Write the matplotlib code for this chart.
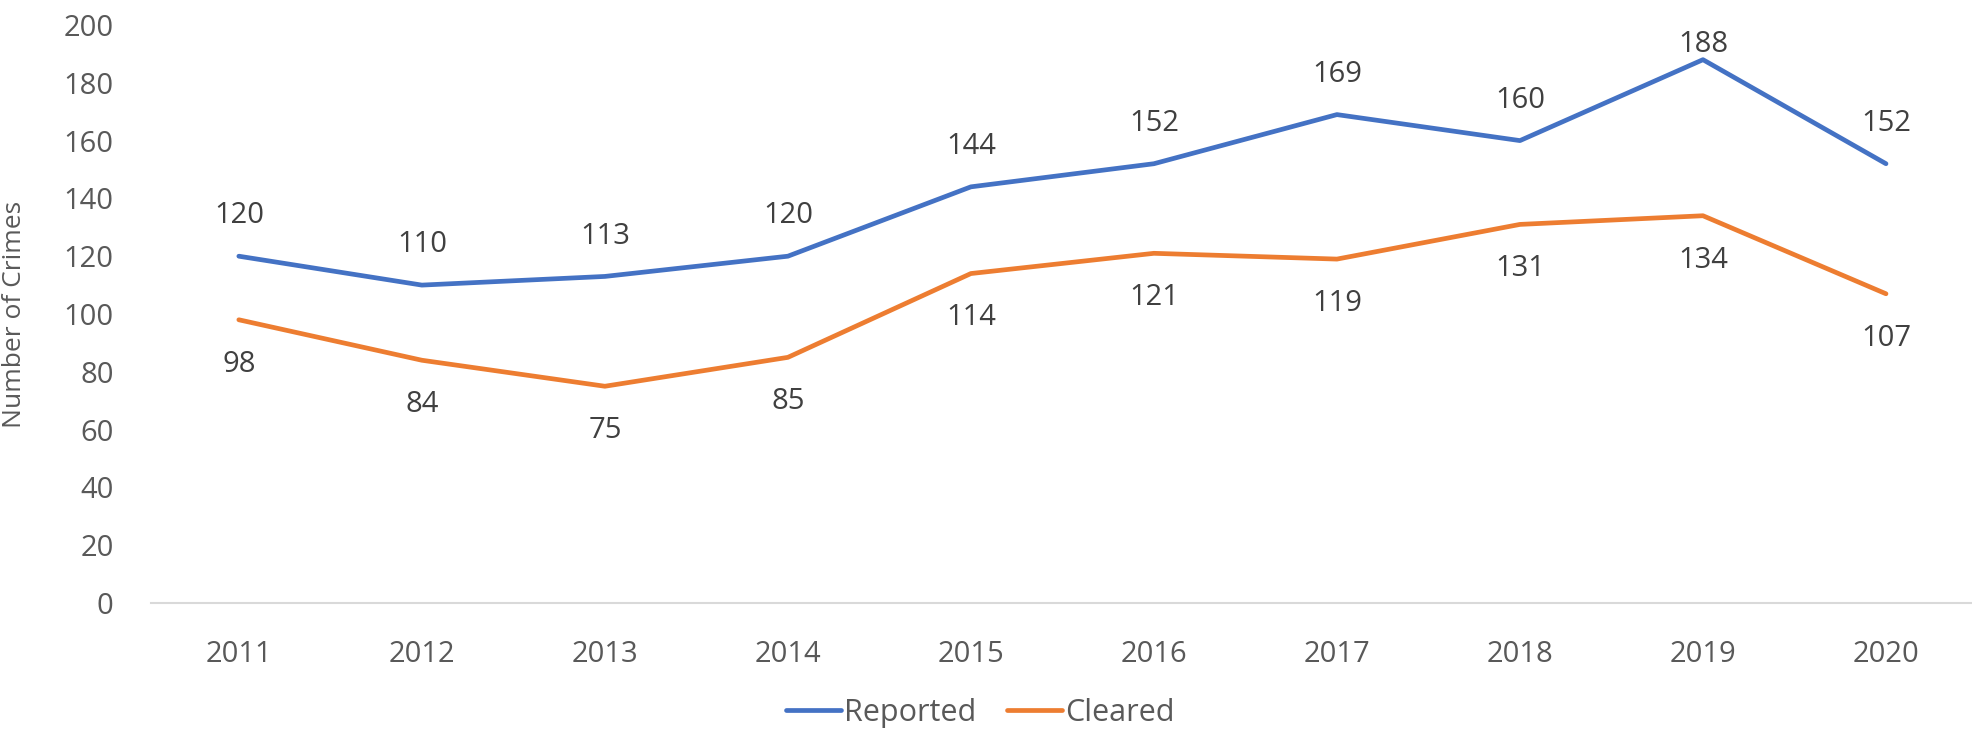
import matplotlib.pyplot as plt

years = ["2011", "2012", "2013", "2014", "2015", "2016", "2017", "2018", "2019", "2020"]
reported = [120, 110, 113, 120, 144, 152, 169, 160, 188, 152]
cleared = [98, 84, 75, 85, 114, 121, 119, 131, 134, 107]

plt.rcParams['font.family'] = ['Open Sans', 'DejaVu Sans']

W, H = 1972, 729
fig = plt.figure(figsize=(W / 100, H / 100), dpi=100)
ax = fig.add_axes([151 / W, 126 / H, 1 - 151 / W, 578 / H])

x = list(range(len(years)))
ax.plot(x, reported, color='#4472C4', linewidth=3.4, label='Reported', solid_capstyle='round')
ax.plot(x, cleared, color='#ED7D31', linewidth=3.4, label='Cleared', solid_capstyle='round')

ax.set_xlim(-0.48, 9.47)
ax.set_ylim(0, 200)

# data labels: reported above (kept inside the figure), cleared below
top_px = H - 45
for xi, v in zip(x, reported):
    ypix = ax.transData.transform((xi, v))[1]
    off = min(29, (top_px - ypix) * 72 / 100)
    ax.annotate(str(v), (xi, v), xytext=(0, off), textcoords='offset points',
                ha='center', va='center', fontsize=21, color='#404040')
for xi, v in zip(x, cleared):
    ax.annotate(str(v), (xi, v), xytext=(0, -32), textcoords='offset points',
                ha='center', va='center', fontsize=21, color='#404040')

ax.set_yticks(range(0, 201, 20))
ax.set_xticks(x)
ax.set_xticklabels(years)
ax.tick_params(axis='both', length=0, labelsize=21, labelcolor='#595959')
ax.tick_params(axis='y', pad=27)
ax.tick_params(axis='x', pad=27)
for s in ['top', 'right', 'left']:
    ax.spines[s].set_visible(False)
ax.spines['bottom'].set_color('#d9d9d9')
ax.spines['bottom'].set_linewidth(1.5)

ax.set_ylabel('Number of Crimes', fontsize=19, color='#595959')
ax.yaxis.set_label_coords((27 - 151) / (W - 151), 0.5)

fig.legend(loc='center', bbox_to_anchor=(980 / W, 16 / H), ncol=2, frameon=False,
           fontsize=22, labelcolor='#595959', handlelength=1.8, handletextpad=0.1,
           columnspacing=1.0)

fig.savefig('out.png', dpi=100)
